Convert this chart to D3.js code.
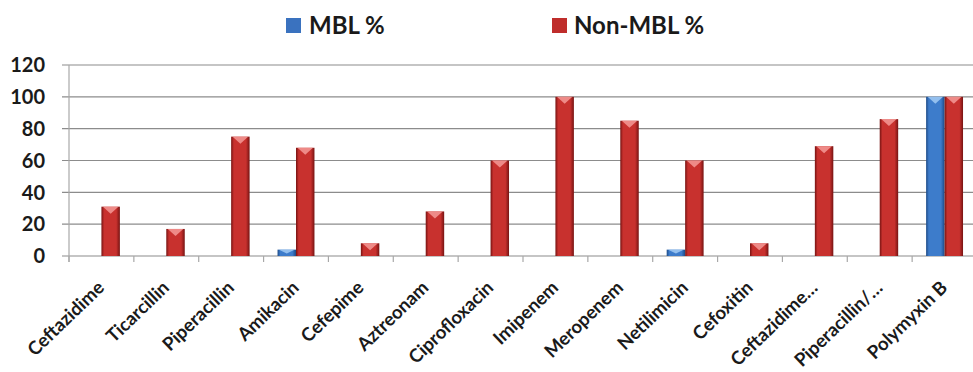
<!DOCTYPE html>
<html>
<head>
<meta charset="utf-8">
<script src="https://cdn.jsdelivr.net/npm/d3@7"></script>
<style>
  html, body { margin: 0; padding: 0; background: #fff; }
  svg { display: block; }
  text { font-family: Lato, "Open Sans", sans-serif; font-weight: 700; fill: #1a1a1a; }
</style>
</head>
<body>
<svg id="chart" width="973" height="372"></svg>
<script>
// Antibiotic susceptibility by MBL status
const categories = ["Ceftazidime", "Ticarcillin", "Piperacillin", "Amikacin", "Cefepime",
  "Aztreonam", "Ciprofloxacin", "Imipenem", "Meropenem", "Netilimicin", "Cefoxitin",
  "Ceftazidime…", "Piperacillin/…", "Polymyxin B"];
const seriesNames = ["MBL %", "Non-MBL %"];
const mblValues    = [0, 0, 0, 4, 0, 0, 0, 0, 0, 4, 0, 0, 0, 100];
const nonMblValues = [31, 17, 75, 68, 8, 28, 60, 100, 85, 60, 8, 69, 86, 100];
const yTicks = [0, 20, 40, 60, 80, 100, 120];

const colors = {
  "MBL %":     { dark: "#1d4a86", mid: "#3d7ccb", light: "#9cc6f2", legend: "#3a72bf" },
  "Non-MBL %": { dark: "#761312", mid: "#c8312e", light: "#f29591", legend: "#bf2d2b" }
};

const svg = d3.select("#chart");
const margin = { left: 69, right: -4, top: 65, bottom: 116 };
const W = 973, H = 372;

const x0 = d3.scaleBand().domain(categories).range([margin.left, W - margin.right]).padding(0);
const x1 = d3.scaleBand().domain(seriesNames).range([0, x0.bandwidth()]).paddingInner(0).paddingOuter(0.757);
const y = d3.scaleLinear().domain([0, 120]).range([H - margin.bottom, margin.top]);

// gradients giving the bars a rounded, shaded look
const defs = svg.append("defs");
seriesNames.forEach((s, i) => {
  const g = defs.append("linearGradient").attr("id", "grad" + i)
    .attr("x1", "0%").attr("x2", "100%").attr("y1", "0%").attr("y2", "0%");
  g.append("stop").attr("offset", "0%").attr("stop-color", colors[s].dark);
  g.append("stop").attr("offset", "15%").attr("stop-color", colors[s].mid);
  g.append("stop").attr("offset", "45%").attr("stop-color", colors[s].mid);
  g.append("stop").attr("offset", "80%").attr("stop-color", colors[s].mid);
  g.append("stop").attr("offset", "100%").attr("stop-color", colors[s].dark);
});

// horizontal gridlines with small ticks left of the axis
svg.append("g").selectAll("line").data(yTicks).join("line")
  .attr("x1", margin.left - 7).attr("x2", W)
  .attr("y1", d => y(d)).attr("y2", d => y(d))
  .attr("stroke", "#8c8c8c").attr("stroke-width", 1.2);

// vertical axis line
svg.append("line")
  .attr("x1", margin.left).attr("x2", margin.left)
  .attr("y1", y(120)).attr("y2", y(0) + 6)
  .attr("stroke", "#a8a8a8").attr("stroke-width", 1.2);

// category boundary ticks below the baseline
const boundaries = categories.map(c => x0(c)).concat([x0(categories[categories.length - 1]) + x0.bandwidth()]);
svg.append("g").selectAll("line").data(boundaries).join("line")
  .attr("x1", d => d).attr("x2", d => d)
  .attr("y1", y(0)).attr("y2", y(0) + 6)
  .attr("stroke", "#a8a8a8").attr("stroke-width", 1.2);

// y tick labels
svg.append("g").selectAll("text").data(yTicks).join("text")
  .attr("x", 45).attr("y", d => y(d))
  .attr("dy", "0.36em")
  .attr("text-anchor", "end")
  .style("font-size", "20px")
  .text(d => d);

// bars
const rows = categories.map((c, i) => ({ cat: c, vals: [mblValues[i], nonMblValues[i]] }));
const groups = svg.append("g").selectAll("g").data(rows).join("g")
  .attr("transform", d => `translate(${x0(d.cat)},0)`);

groups.each(function(d) {
  const g = d3.select(this);
  d.vals.forEach((v, i) => {
    if (v <= 0) return;
    const s = seriesNames[i];
    const bx = x1(s), bw = x1.bandwidth();
    const top = y(v), bottom = y(0);
    g.append("rect")
      .attr("x", bx).attr("y", top)
      .attr("width", bw).attr("height", bottom - top)
      .attr("fill", `url(#grad${i})`);
    // lighter bevel on the top face
    const tri = Math.min(7, (bottom - top) * 0.6);
    g.append("path")
      .attr("d", `M${bx + 1.5},${top} L${bx + bw - 1.5},${top} L${bx + bw / 2},${top + tri} Z`)
      .attr("fill", colors[s].light).attr("opacity", 0.9);
  });
});

// category labels, rotated
svg.append("g").selectAll("text").data(categories).join("text")
  .attr("transform", d => `translate(${x0(d) + x0.bandwidth() / 2 + 4},${y(0) + 33}) rotate(-44)`)
  .attr("text-anchor", "end")
  .style("font-size", "18.5px")
  .text(d => d);

// legend
const legendItems = [
  { name: "MBL %", sx: 286, tx: 309 },
  { name: "Non-MBL %", sx: 552, tx: 574 }
];
const lg = svg.append("g");
legendItems.forEach(it => {
  lg.append("rect").attr("x", it.sx).attr("y", 18).attr("width", 15).attr("height", 15)
    .attr("fill", colors[it.name].legend);
  lg.append("text").attr("x", it.tx).attr("y", 25.5).attr("dy", "0.36em")
    .style("font-size", "24px")
    .text(it.name);
});
</script>
</body>
</html>
